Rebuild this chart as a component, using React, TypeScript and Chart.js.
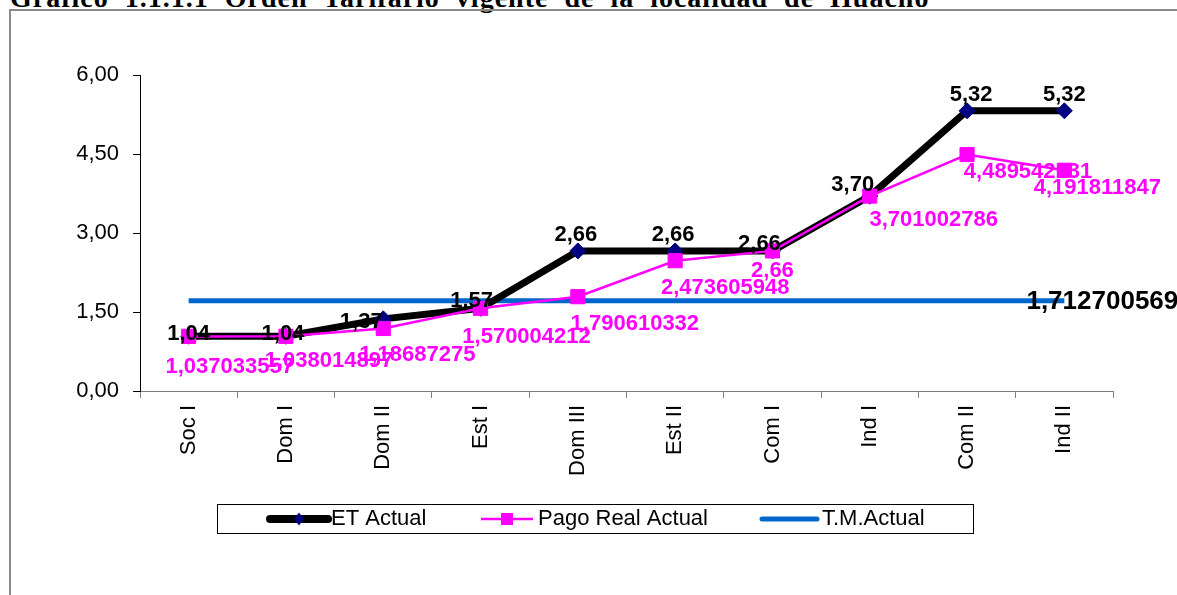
import React, { useEffect, useRef } from 'react';
import { Chart, registerables } from 'chart.js';

Chart.register(...registerables);

// ---------- data ----------
const categories = ['Soc I', 'Dom I', 'Dom II', 'Est I', 'Dom III', 'Est II', 'Com I', 'Ind I', 'Com II', 'Ind II'];
const etActual = [1.04, 1.04, 1.37, 1.57, 2.66, 2.66, 2.66, 3.7, 5.32, 5.32];
const pagoRealActual = [
  1.037033557, 1.038014897, 1.18687275, 1.570004212, 1.790610332,
  2.473605948, 2.66, 3.701002786, 4.489542131, 4.191811847,
];
const tmActual = [
  1.712700569, 1.712700569, 1.712700569, 1.712700569, 1.712700569,
  1.712700569, 1.712700569, 1.712700569, 1.712700569, 1.712700569,
];
const yMin = 0;
const yMax = 6;
const yStep = 1.5;
const seriesNames = ['ET Actual', 'Pago Real Actual', 'T.M.Actual'];
const titleText = 'Gráfico 1.1.1.1 Orden Tarifario vigente de la localidad de Huacho';

// ---------- label placement (pixel offset of each label centre from its point) ----------
type Off = [number, number] | null;
const etLabelOffsets: Off[] = [
  [0, -2], [-3, -2], [-22, 3], [-9, -7], [-2, -16],
  [-2, -16], [-13, -7], [-17, -11], [4, -16], [0, -16],
];
const pagoLabelOffsets: Off[] = [
  [41, 31], [43, 25], [34, 26], [46, 29], [57, 27],
  [50, 27], [0, 20], [64, 24], [61, 17], [33, 18],
];
const tmLabelOffsets: Off[] = [null, null, null, null, null, null, null, null, null, [38, 1]];

const SANS = "'Liberation Sans', Arial, Helvetica, sans-serif";
const SERIF = "'Liberation Serif', 'Times New Roman', serif";

const fmt2 = (v: number) => v.toFixed(2).replace('.', ',');
const fmtRaw = (v: number) => String(v).replace('.', ',');

function drawLabels(
  chart: any, dsIndex: number, offsets: Off[], fmt: (v: number) => string, color: string, size = 22,
) {
  const meta = chart.getDatasetMeta(dsIndex);
  const data = chart.data.datasets[dsIndex].data as number[];
  const ctx = chart.ctx as CanvasRenderingContext2D;
  ctx.save();
  ctx.font = `bold ${size}px ${SANS}`;
  ctx.fillStyle = color;
  ctx.textAlign = 'center';
  ctx.textBaseline = 'middle';
  meta.data.forEach((pt: any, j: number) => {
    const off = offsets[j];
    if (!off) return;
    ctx.fillText(fmt(data[j]), pt.x + off[0], pt.y + off[1]);
  });
  ctx.restore();
}

const labelsPlugin = {
  id: 'valueLabels',
  beforeDatasetDraw(chart: any, args: any) {
    if (args.index === 1) drawLabels(chart, 1, pagoLabelOffsets, fmtRaw, '#FF00FF');
  },
  afterDatasetsDraw(chart: any) {
    drawLabels(chart, 0, etLabelOffsets, fmt2, '#000000');
    drawLabels(chart, 2, tmLabelOffsets, fmtRaw, '#000000', 26);
  },
};

// legend layout
const legendBox = { x: 217.5, y: 504.5, w: 756, h: 29 };
const legendY = 519;
const legendItems = [
  { x0: 270, x1: 328, tx: 331 },
  { x0: 481, x1: 533, tx: 538 },
  { x0: 762, x1: 817, tx: 822 },
];

const legendPlugin = {
  id: 'boxLegend',
  afterDraw(chart: any) {
    const ctx = chart.ctx as CanvasRenderingContext2D;
    ctx.save();
    ctx.strokeStyle = '#000000';
    ctx.lineWidth = 1;
    ctx.strokeRect(legendBox.x, legendBox.y, legendBox.w, legendBox.h);
    chart.data.datasets.forEach((ds: any, i: number) => {
      const it = legendItems[i];
      ctx.strokeStyle = ds.borderColor;
      ctx.lineWidth = i === 0 ? 8 : ds.borderWidth;
      ctx.lineCap = i === 1 ? 'butt' : 'round';
      ctx.beginPath();
      ctx.moveTo(it.x0, legendY);
      ctx.lineTo(it.x1, legendY);
      ctx.stroke();
      const cx = (it.x0 + it.x1) / 2;
      if (i === 0) {
        ctx.fillStyle = ds.pointBackgroundColor;
        ctx.beginPath();
        ctx.moveTo(cx - 5, legendY);
        ctx.lineTo(cx, legendY - 6.5);
        ctx.lineTo(cx + 5, legendY);
        ctx.lineTo(cx, legendY + 6.5);
        ctx.closePath();
        ctx.fill();
      } else if (i === 1) {
        ctx.fillStyle = ds.pointBackgroundColor;
        ctx.fillRect(cx - 6, legendY - 6, 12, 12);
      }
      ctx.fillStyle = '#000000';
      ctx.font = `22px ${SANS}`;
      ctx.textAlign = 'left';
      ctx.textBaseline = 'middle';
      ctx.fillText(ds.label, it.tx, legendY);
    });
    ctx.restore();
  },
};

export default function App() {
  const canvasRef = useRef<HTMLCanvasElement | null>(null);

  useEffect(() => {
    const canvas = canvasRef.current;
    if (!canvas) return;
    const chart = new Chart(canvas, {
      type: 'line',
      data: {
        labels: categories,
        datasets: [
          {
            label: seriesNames[0],
            data: etActual,
            borderColor: '#000000',
            borderWidth: 7,
            pointStyle: 'rectRot',
            pointRadius: 8,
            pointHoverRadius: 8,
            pointBackgroundColor: '#000080',
            pointBorderColor: '#000080',
            pointBorderWidth: 1,
            tension: 0,
            fill: false,
            order: 1,
          },
          {
            label: seriesNames[1],
            data: pagoRealActual,
            borderColor: '#FF00FF',
            borderWidth: 2.5,
            pointStyle: 'rect',
            pointRadius: 10,
            pointHoverRadius: 10,
            pointBackgroundColor: '#FF00FF',
            pointBorderColor: '#FF00FF',
            pointBorderWidth: 1,
            tension: 0,
            fill: false,
            order: 0,
          },
          {
            label: seriesNames[2],
            data: tmActual,
            borderColor: '#0066CC',
            borderWidth: 5,
            pointRadius: 0,
            pointHoverRadius: 0,
            tension: 0,
            fill: false,
            order: 2,
          },
        ],
      } as any,
      options: {
        responsive: false,
        animation: false,
        devicePixelRatio: 1,
        events: [],
        layout: { padding: { top: 75, right: 64, bottom: 104, left: 0 } },
        plugins: {
          legend: { display: false },
          tooltip: { enabled: false },
          title: { display: false },
        },
        scales: {
          x: {
            type: 'category',
            offset: true,
            grid: { offset: true, drawOnChartArea: false, drawTicks: true, tickLength: 7, color: '#808080', lineWidth: 1 },
            border: { display: true, color: '#808080', width: 1 },
            ticks: {
              minRotation: 90,
              maxRotation: 90,
              autoSkip: false,
              padding: 7,
              color: '#000000',
              font: { family: SANS, size: 22 },
            },
            afterFit: (scale: any) => { scale.height = 100; },
          },
          y: {
            min: yMin,
            max: yMax,
            grid: { drawOnChartArea: false, drawTicks: true, tickLength: 7, color: '#000000', lineWidth: 1 },
            border: { display: true, color: '#000000', width: 1 },
            ticks: {
              stepSize: yStep,
              padding: 14,
              color: '#000000',
              font: { family: SANS, size: 22 },
              callback: (v: any) => fmt2(Number(v)),
            },
            afterFit: (scale: any) => { scale.width = 140; },
          },
        },
      } as any,
      plugins: [labelsPlugin, legendPlugin],
    });
    return () => chart.destroy();
  }, []);

  return (
    <div style={{ position: 'fixed', left: 0, top: 0, width: 1177, height: 595, overflow: 'hidden', background: '#ffffff' }}>
      <div
        style={{
          position: 'absolute', left: 10, top: -16, whiteSpace: 'nowrap',
          fontFamily: SERIF, fontWeight: 'bold', fontSize: 28, lineHeight: '28px',
          letterSpacing: 1, wordSpacing: 8, color: '#000',
        }}
      >
        {titleText}
      </div>
      <div
        style={{
          position: 'absolute', left: 9, top: 9, width: 3000, height: 3000,
          border: '2px solid #8a8a8a', boxSizing: 'border-box',
        }}
      />
      <canvas
        ref={canvasRef}
        width={1177}
        height={595}
        style={{ position: 'absolute', left: 0, top: 0, width: 1177, height: 595, display: 'block' }}
      />
    </div>
  );
}
